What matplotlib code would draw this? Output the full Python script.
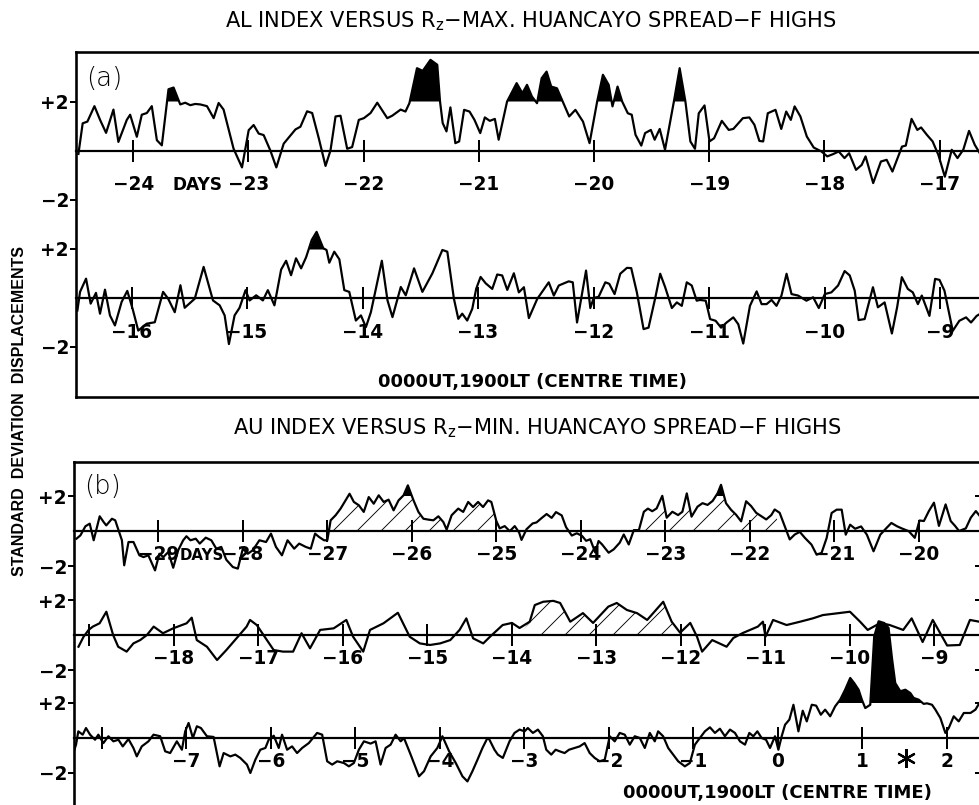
import numpy as np
import matplotlib
matplotlib.use("Agg")
import matplotlib.pyplot as plt

plt.rcParams['font.family'] = ['DejaVu Sans']
plt.rcParams['mathtext.default'] = 'regular'
plt.rcParams['hatch.linewidth'] = 0.9

# ---------------- data (days, standard deviation displacement) ----------------
a1_days = [-24.475, -24.438, -24.397, -24.336, -24.287, -24.235, -24.171, -24.128, -24.055, -24.026,
           -23.968, -23.925, -23.881, -23.838, -23.794, -23.751, -23.693, -23.649, -23.591, -23.548,
           -23.504, -23.461, -23.417, -23.359, -23.301, -23.258, -23.215, -23.128, -23.055, -22.997,
           -22.954, -22.910, -22.867, -22.809, -22.757, -22.693, -22.591, -22.548, -22.490, -22.446,
           -22.388, -22.330, -22.287, -22.243, -22.200, -22.142, -22.099, -22.041, -21.997, -21.939,
           -21.881, -21.794, -21.751, -21.678, -21.636, -21.602, -21.536, -21.486, -21.419, -21.360,
           -21.336, -21.313, -21.280, -21.246, -21.203, -21.170, -21.127, -21.080, -21.037, -20.987,
           -20.947, -20.904, -20.860, -20.827, -20.754, -20.671, -20.621, -20.581, -20.538, -20.494,
           -20.454, -20.411, -20.371, -20.321, -20.271, -20.215, -20.161, -20.095, -20.038, -19.972,
           -19.922, -19.872, -19.839, -19.795, -19.755, -19.706, -19.672, -19.639, -19.589, -19.556,
           -19.506, -19.473, -19.429, -19.383, -19.306, -19.256, -19.206, -19.163, -19.123, -19.090,
           -19.040, -18.997, -18.957, -18.890, -18.830, -18.790, -18.707, -18.651, -18.607, -18.564,
           -18.531, -18.491, -18.424, -18.374, -18.331, -18.291, -18.258, -18.208, -18.152, -18.092,
           -18.025, -17.975, -17.925, -17.875, -17.825, -17.785, -17.725, -17.676, -17.642, -17.576,
           -17.509, -17.459, -17.409, -17.326, -17.293, -17.243, -17.193, -17.160, -17.110, -17.060,
           -17.010, -16.954, -16.894, -16.844, -16.794, -16.744, -16.694, -16.634, -16.550]
a1_vals = [-0.14, 1.11, 1.18, 1.81, 1.25, 0.72, 1.67, 0.35, 1.25, 1.46,
           0.56, 1.46, 1.53, 1.81, 0.42, 0.21, 2.50, 2.57, 1.88, 1.95,
           1.85, 1.90, 1.88, 1.81, 1.32, 1.94, 1.67, 0.07, -0.69, 0.83,
           1.04, 0.69, 0.63, 0.00, -0.69, 0.28, 0.86, 0.97, 1.60, 1.53,
           0.49, -0.63, 0.00, 1.39, 1.42, 0.07, 0.14, 1.25, 1.32, 1.53,
           1.95, 1.32, 1.42, 1.67, 1.59, 1.93, 3.36, 3.25, 3.70, 3.50,
           2.00, 1.12, 0.78, 1.76, 0.30, 0.37, 1.66, 1.59, 1.25, 0.71,
           1.35, 1.21, 1.29, 0.44, 2.00, 2.75, 2.34, 2.68, 2.20, 1.93,
           2.95, 3.22, 2.61, 2.54, 2.00, 1.39, 1.66, 1.18, 0.30, 2.00,
           3.09, 2.68, 1.80, 2.61, 2.00, 1.52, 1.46, 0.64, 0.20, 0.71,
           0.84, 0.44, 0.88, 0.03, 2.00, 3.36, 2.00, 0.37, 0.07, 1.52,
           1.84, 0.37, 0.50, 1.21, 0.84, 0.88, 1.32, 1.35, 1.05, 0.39,
           0.37, 1.52, 1.66, 0.88, 1.59, 1.25, 1.80, 1.39, 0.57, 0.12,
           -0.04, -0.24, -0.15, -0.04, -0.31, -0.11, -0.79, -0.59, -0.24, -1.33,
           -0.45, -0.38, -0.86, 0.16, 0.20, 1.29, 0.84, 0.94, 0.64, 0.37,
           -0.18, -1.07, 0.03, -0.31, 0.03, 0.80, 0.23, -0.24, 0.20]

a2_days = [-16.469, -16.446, -16.394, -16.354, -16.308, -16.273, -16.230, -16.187, -16.144, -16.086,
           -16.037, -15.991, -15.942, -15.870, -15.799, -15.727, -15.683, -15.626, -15.577, -15.540,
           -15.453, -15.376, -15.295, -15.237, -15.194, -15.157, -15.108, -15.065, -15.013, -14.978,
           -14.921, -14.863, -14.820, -14.763, -14.705, -14.662, -14.619, -14.576, -14.532, -14.489,
           -14.440, -14.398, -14.340, -14.312, -14.288, -14.245, -14.201, -14.158, -14.115, -14.058,
           -14.014, -13.971, -13.928, -13.833, -13.784, -13.741, -13.669, -13.626, -13.554, -13.482,
           -13.396, -13.309, -13.266, -13.209, -13.171, -13.137, -13.094, -13.050, -13.016, -12.978,
           -12.934, -12.877, -12.834, -12.791, -12.747, -12.690, -12.647, -12.603, -12.560, -12.488,
           -12.388, -12.344, -12.301, -12.215, -12.180, -12.143, -12.065, -12.028, -11.999, -11.956,
           -11.898, -11.864, -11.818, -11.769, -11.711, -11.674, -11.625, -11.567, -11.524, -11.466,
           -11.423, -11.380, -11.322, -11.279, -11.236, -11.193, -11.150, -11.107, -11.078, -11.029,
           -10.991, -10.943, -10.896, -10.848, -10.790, -10.747, -10.704, -10.646, -10.588, -10.545,
           -10.502, -10.459, -10.416, -10.373, -10.329, -10.286, -10.229, -10.157, -10.099, -10.050,
           -9.998, -9.941, -9.883, -9.826, -9.782, -9.739, -9.705, -9.653, -9.581, -9.538,
           -9.480, -9.417, -9.371, -9.331, -9.279, -9.236, -9.192, -9.158, -9.092, -9.043,
           -9.005, -8.962, -8.890, -8.833, -8.775, -8.732, -8.683, -8.600]
a2_vals = [-0.51, 0.25, 0.79, -0.23, 0.21, -0.64, 0.34, -0.71, -1.12, -0.16,
           0.29, -0.44, -1.33, -1.05, -0.99, 0.25, -0.03, -0.58, 0.52, -0.40,
           -0.03, 1.27, -0.10, -0.30, -0.71, -1.88, -0.71, -0.40, 0.32, -0.10,
           0.11, -0.10, 0.32, -0.30, 1.16, 1.52, 0.93, 1.62, 1.21, 1.66,
           2.37, 2.70, 2.03, 1.96, 1.44, 1.89, 1.58, 0.32, 0.25, -0.92,
           -0.71, -1.19, -0.58, 1.52, -0.10, -0.78, 0.45, 0.11, 1.21, 0.25,
           1.00, 1.96, 1.89, -0.03, -0.85, -0.64, -0.92, -0.44, 0.38, 0.86,
           0.60, 0.37, 0.96, 0.92, 0.33, 1.01, 0.23, 0.44, -0.82, -0.04,
           0.64, 0.10, 0.51, 0.68, 0.64, -1.00, 1.12, -0.41, 0.00, 0.05,
           0.64, 0.58, 0.16, 0.99, 1.23, 1.22, 0.23, -1.27, -1.21, 0.00,
           0.99, 0.44, -0.41, -0.18, -0.32, 0.64, 0.51, -0.11, -0.08, -0.11,
           -0.86, -0.93, -1.21, -1.00, -0.79, -1.07, -1.86, -0.32, 0.27, -0.25,
           -0.25, -0.08, -0.32, 0.10, 0.99, 0.16, 0.10, -0.11, 0.03, -0.41,
           0.16, 0.23, 0.51, 1.10, 0.92, 0.30, -0.90, -0.86, 0.44, -0.38,
           -0.18, -1.45, -0.36, 0.85, 0.37, 0.23, -0.25, 0.10, -0.73, 0.78,
           0.74, 0.30, -1.34, -0.93, -0.79, -1.00, -0.73, -0.50]

b1_days = [-29.969, -29.922, -29.863, -29.812, -29.765, -29.694, -29.647, -29.616, -29.549, -29.510,
           -29.431, -29.404, -29.353, -29.294, -29.224, -29.176, -29.118, -29.039, -28.988, -28.941,
           -28.882, -28.824, -28.765, -28.706, -28.667, -28.620, -28.557, -28.510, -28.439, -28.373,
           -28.314, -28.255, -28.196, -28.118, -28.059, -28.000, -27.941, -27.882, -27.804, -27.725,
           -27.667, -27.608, -27.537, -27.471, -27.392, -27.333, -27.255, -27.196, -27.145, -27.098,
           -27.039, -27.000, -26.961, -26.902, -26.843, -26.784, -26.737, -26.686, -26.627, -26.569,
           -26.510, -26.451, -26.392, -26.333, -26.275, -26.216, -26.157, -26.098, -26.047, -25.980,
           -25.922, -25.863, -25.804, -25.745, -25.686, -25.627, -25.588, -25.529, -25.451, -25.392,
           -25.333, -25.275, -25.216, -25.157, -25.098, -25.059, -25.000, -24.960, -24.901, -24.841,
           -24.782, -24.730, -24.702, -24.643, -24.571, -24.524, -24.464, -24.405, -24.345, -24.294,
           -24.226, -24.175, -24.107, -24.048, -23.988, -23.937, -23.889, -23.829, -23.790, -23.750,
           -23.671, -23.611, -23.540, -23.492, -23.433, -23.373, -23.313, -23.254, -23.206, -23.155,
           -23.103, -23.036, -22.984, -22.917, -22.849, -22.798, -22.746, -22.690, -22.619, -22.560,
           -22.500, -22.440, -22.381, -22.341, -22.282, -22.222, -22.163, -22.103, -22.044, -21.984,
           -21.925, -21.865, -21.806, -21.746, -21.706, -21.647, -21.587, -21.528, -21.468, -21.409,
           -21.349, -21.270, -21.210, -21.151, -21.091, -21.032, -20.972, -20.913, -20.865, -20.813,
           -20.754, -20.683, -20.615, -20.536, -20.456, -20.389, -20.325, -20.258, -20.198, -20.119,
           -20.048, -19.992, -19.940, -19.881, -19.821, -19.762, -19.683, -19.623, -19.571, -19.524,
           -19.444, -19.385, -19.325, -19.258, -19.200]
b1_vals = [-0.44, -0.25, 0.27, 0.42, -0.53, 0.84, 0.51, 0.32, 0.70, 0.61,
           -0.53, -1.96, -0.63, -0.63, -1.39, -1.49, -1.39, -2.25, -1.30, -1.49,
           -1.20, -2.10, -1.10, -0.53, -0.30, -0.53, -0.44, -0.72, -0.38, -0.53,
           -1.01, -0.91, -1.64, -2.06, -2.15, -1.01, -1.30, -1.10, -0.53, -0.63,
           -0.15, -0.91, -1.39, -0.53, -1.01, -0.72, -0.91, -1.01, -0.15, -0.34,
           -0.53, -0.53, 0.61, 0.90, 1.28, 1.75, 2.13, 1.66, 1.47, 1.09,
           1.94, 1.56, 2.04, 1.66, 1.79, 1.18, 1.75, 2.04, 2.61, 1.75,
           1.09, 0.70, 0.65, 0.61, 0.84, 0.51, 0.08, 0.90, 1.28, 1.09,
           1.66, 1.37, 1.66, 1.37, 1.75, 1.66, 0.57, 0.15, 0.28, -0.01,
           0.28, -0.09, -0.51, 0.10, 0.43, 0.49, 0.74, 0.97, 0.75, 1.08,
           0.89, 0.22, -0.26, -0.13, -0.27, -0.56, -0.47, -1.23, -0.57, -0.76,
           -1.24, -1.05, -0.67, -0.20, -0.77, 0.05, 0.05, 1.10, 1.28, 1.13,
           1.29, 2.01, 0.76, 1.10, 0.91, 1.10, 2.15, 0.82, 1.39, 1.59,
           1.49, 1.72, 2.16, 2.64, 1.59, 1.21, 0.93, 0.55, 1.70, 1.42,
           1.04, 0.85, 0.66, 0.91, 1.23, 1.04, 0.28, -0.48, -0.20, -0.05,
           -0.39, -0.78, -1.35, -1.25, -0.40, 1.03, 1.22, 1.22, -0.21, 0.36,
           0.13, 0.26, -0.21, -1.16, -0.21, 0.14, 0.46, 0.27, 0.14, -0.01,
           -0.39, 0.60, 0.57, 1.14, 1.62, 0.29, 1.52, 0.57, 0.29, 0.00,
           0.15, 0.76, 1.14, 0.73, 0.40]

b2_days = [-19.13, -19.07, -19.01, -18.96, -18.88, -18.80, -18.72, -18.66, -18.56, -18.48,
           -18.40, -18.32, -18.24, -18.13, -18.01, -17.85, -17.79, -17.73, -17.61, -17.49,
           -17.38, -17.26, -17.14, -17.10, -17.02, -16.90, -16.82, -16.71, -16.59, -16.49,
           -16.39, -16.27, -16.11, -15.96, -15.88, -15.76, -15.68, -15.52, -15.35, -15.21,
           -15.09, -14.97, -14.85, -14.73, -14.62, -14.54, -14.46, -14.34, -14.26, -14.11,
           -14.00, -13.91, -13.79, -13.73, -13.63, -13.51, -13.43, -13.31, -13.16, -13.04,
           -12.86, -12.76, -12.64, -12.52, -12.40, -12.21, -12.11, -12.01, -11.89, -11.81,
           -11.75, -11.63, -11.46, -11.38, -11.27, -11.09, -11.03, -11.00, -10.91, -10.75,
           -10.59, -10.44, -10.32, -10.15, -10.00, -9.88, -9.79, -9.64, -9.53, -9.37,
           -9.27, -9.14, -9.02, -8.85, -8.70, -8.58, -8.47, -8.40]
b2_vals = [-0.67, -0.10, 0.29, 0.48, 0.67, 1.33, 0.00, -0.67, -0.95, -0.48,
           -0.29, 0.00, 0.48, 0.10, 0.38, 0.67, 0.99, -0.29, -0.67, -1.43,
           -0.86, -0.19, 0.48, 0.86, 0.57, -0.29, -0.86, -0.95, -0.95, 0.10,
           -0.76, 0.29, 0.38, 0.86, -0.10, -0.95, 0.29, 0.67, 1.27, -0.10,
           -0.48, -0.57, -0.48, -0.29, 0.29, 0.95, -0.19, -0.48, -0.10, 0.57,
           0.69, 0.40, 0.76, 1.71, 1.90, 1.95, 1.83, 0.76, 1.25, 0.69,
           1.62, 1.83, 1.43, 1.25, 0.86, 1.90, 0.76, 0.13, 0.69, -0.10,
           -0.95, -0.29, -0.67, -0.17, 0.11, 0.48, 0.76, -0.10, 0.86, 0.57,
           0.76, 0.95, 1.14, 1.24, 1.33, 0.76, 0.29, 0.69, 0.57, 0.29,
           0.95, -0.40, 0.86, -0.60, -0.57, 0.86, 0.76, 0.50]

b3_days = [-8.336, -8.304, -8.277, -8.225, -8.186, -8.138, -8.079, -8.040, -7.980, -7.921,
           -7.862, -7.802, -7.751, -7.684, -7.625, -7.585, -7.526, -7.447, -7.387, -7.308,
           -7.249, -7.190, -7.111, -7.051, -7.012, -6.972, -6.921, -6.874, -6.826, -6.755,
           -6.676, -6.605, -6.557, -6.478, -6.419, -6.360, -6.281, -6.241, -6.182, -6.123,
           -6.063, -6.024, -5.964, -5.905, -5.866, -5.806, -5.747, -5.688, -5.628, -5.549,
           -5.451, -5.391, -5.332, -5.273, -5.213, -5.134, -5.075, -5.016, -4.957, -4.897,
           -4.818, -4.759, -4.700, -4.640, -4.581, -4.522, -4.462, -4.423, -4.344, -4.245,
           -4.186, -4.107, -4.028, -3.968, -3.889, -3.810, -3.731, -3.672, -3.613, -3.553,
           -3.494, -3.435, -3.411, -3.352, -3.312, -3.253, -3.174, -3.115, -3.055, -2.996,
           -2.957, -2.897, -2.838, -2.779, -2.739, -2.680, -2.628, -2.581, -2.522, -2.470,
           -2.403, -2.344, -2.285, -2.225, -2.166, -2.107, -2.047, -1.988, -1.929, -1.870,
           -1.810, -1.751, -1.692, -1.632, -1.573, -1.514, -1.455, -1.415, -1.356, -1.296,
           -1.237, -1.178, -1.099, -1.040, -0.980, -0.921, -0.862, -0.802, -0.743, -0.684,
           -0.625, -0.565, -0.506, -0.447, -0.387, -0.336, -0.289, -0.241, -0.190, -0.138,
           -0.091, -0.032, 0.008, 0.047, 0.087, 0.138, 0.186, 0.245, 0.296, 0.344,
           0.403, 0.455, 0.510, 0.561, 0.621, 0.680, 0.739, 0.798, 0.858, 0.905,
           0.957, 0.996, 1.036, 1.095, 1.142, 1.194, 1.261, 1.312, 1.352, 1.391,
           1.451, 1.510, 1.569, 1.609, 1.668, 1.727, 1.767, 1.826, 1.866, 1.925,
           1.984, 2.024, 2.083, 2.142, 2.202, 2.281, 2.340, 2.387]
b3_vals = [-0.86, -0.38, 0.38, 0.19, 0.57, 0.19, -0.10, 0.19, -0.29, 0.10,
           -0.19, -0.10, -0.48, -0.06, -0.57, -1.05, -0.48, -0.19, 0.19, 0.10,
           -0.76, -0.86, -0.19, -0.67, 0.38, 0.86, 0.00, 0.67, 0.57, 0.10,
           0.06, -1.62, -0.86, -1.05, -0.95, -1.14, -1.52, -2.00, -1.24, -0.67,
           -0.57, -0.10, 0.13, -0.57, 0.19, -0.67, -0.48, -0.86, -0.57, -0.29,
           0.29, 0.19, -1.33, -1.52, -1.33, -1.43, -1.62, -1.43, -0.67, -0.19,
           -0.32, -0.19, -1.52, -0.57, -0.38, 0.19, -0.19, 0.00, -0.95, -2.19,
           -1.90, -1.05, -0.57, 0.10, -0.76, -1.43, -2.19, -2.48, -1.90, -1.24,
           -0.57, 0.00, -0.10, -0.67, -0.95, -1.14, -0.19, 0.29, 0.48, 0.38,
           0.57, 0.29, 0.48, 0.10, -0.67, -0.95, -0.67, -0.76, -0.86, -0.67,
           -0.57, -0.48, -0.29, -0.86, -1.14, -1.33, -1.24, 0.10, -0.19, 0.29,
           0.19, -0.38, 0.10, 0.00, -0.57, 0.29, -0.19, 0.38, 0.10, -0.57,
           -0.95, -1.33, -1.62, -1.43, -0.38, 0.00, 0.38, 0.61, 0.29, 0.53,
           0.10, 0.48, 0.29, -0.19, -0.38, 0.29, 0.10, 0.38, 0.00, -0.10,
           -0.57, 0.10, -0.67, 0.10, 0.76, 1.05, 1.90, 0.38, 1.56, 0.95,
           1.90, 1.85, 1.33, 1.62, 1.24, 1.81, 2.19, 2.76, 3.43, 3.14,
           2.76, 2.19, 1.71, 1.90, 5.81, 6.67, 6.57, 6.29, 4.57, 3.14,
           2.67, 2.76, 2.57, 2.29, 2.19, 1.95, 1.98, 1.90, 1.62, 1.14,
           0.29, 0.57, 1.24, 0.95, 1.43, 1.43, 1.62, 2.00]

FILL_LEVEL = 2.0
b1_hatch = [(-27.0, -25.0), (-23.3, -21.65)]
b2_hatch = [(-13.9, -12.1)]
star_day, star_val = 1.52, -1.15

panel_a_title = "AL INDEX VERSUS R$_z$\u2212MAX. HUANCAYO SPREAD\u2212F HIGHS"
panel_b_title = "AU INDEX VERSUS R$_z$\u2212MIN. HUANCAYO SPREAD\u2212F HIGHS"
ylabel_text = "STANDARD  DEVIATION  DISPLACEMENTS"
centre_text = "0000UT,1900LT (CENTRE TIME)"

# ---------------- layout ----------------
W, H, DPI = 979, 805, 72
fig = plt.figure(figsize=(W / DPI, H / DPI), dpi=DPI)
fig.patch.set_facecolor('white')


def frac(x0, y0, x1, y1):
    return [x0 / W, 1 - y1 / H, (x1 - x0) / W, (y1 - y0) / H]


def box(x0, y0, x1, y1):
    ax = fig.add_axes(frac(x0, y0, x1, y1))
    ax.set_xticks([]); ax.set_yticks([])
    ax.patch.set_visible(False)
    for s in ax.spines.values():
        s.set_linewidth(2.6)
    return ax


box(76, 52, 1000, 397)
box(74, 462, 1000, 840)

TICK_FS = 18.5


def row(x0, x1, day_left, ppd, zero_y, ppu, ylo, yhi, label_pad, right_ticks=False,
        skip_first_label=False):
    top = zero_y - yhi * ppu
    bot = zero_y - ylo * ppu
    ax = fig.add_axes(frac(x0, top, x1, bot))
    ax.patch.set_visible(False)
    ax.set_xlim(day_left, day_left + (x1 - x0) / ppd)
    ax.set_ylim(ylo, yhi)
    for s in ('top', 'right', 'left'):
        ax.spines[s].set_visible(False)
    ax.spines['bottom'].set_position(('data', 0))
    ax.spines['bottom'].set_linewidth(2.2)
    lo, hi = ax.get_xlim()
    days = list(range(int(np.ceil(lo)), int(np.floor(hi)) + 1))
    labels = [str(d).replace('-', '\u2212') for d in days]
    if skip_first_label:
        labels[0] = ''
    ax.set_xticks(days)
    ax.set_xticklabels(labels)
    ax.tick_params(axis='x', direction='inout', length=22, width=2, pad=label_pad,
                   labelsize=TICK_FS)
    ax.set_yticks([-2, 2])
    ax.set_yticklabels(['\u22122', '+2'])
    ax.tick_params(axis='y', direction='out', length=6, width=2, pad=1, labelsize=TICK_FS)
    for t in ax.get_xticklabels() + ax.get_yticklabels():
        t.set_fontweight('bold')
    if right_ticks:
        sec = ax.secondary_yaxis('right')
        sec.set_yticks([-2, 2])
        sec.tick_params(direction='in', length=11, width=2, labelright=False)
        sec.spines['right'].set_visible(False)
    return ax


def draw(ax, d, v, hatch=None):
    d = np.asarray(d); v = np.asarray(v)
    ax.plot(d, v, color='black', lw=2.2, solid_joinstyle='round')
    ax.fill_between(d, FILL_LEVEL, v, where=v > FILL_LEVEL, interpolate=True,
                    color='black', lw=0)
    if hatch:
        for a, b in hatch:
            m = (d >= a) & (d <= b)
            ax.fill_between(d, 0, v, where=m & (v > 0), interpolate=True,
                            facecolor='none', edgecolor='black', hatch='/', lw=0)


ax_a1 = row(76, 1000, -24.496, 115.2, 150.5, 24.5, -2.7, 4.2, 14)
ax_a2 = row(76, 1000, -16.481, 115.5, 298.0, 24.5, -2.7, 4.2, 14)
ax_b1 = row(74, 986, -29.998, 84.5, 531.0, 17.5, -2.7, 3.6, 3, right_ticks=True)
ax_b2 = row(74, 986, -19.183, 84.5, 635.0, 17.5, -2.7, 3.6, 3, right_ticks=True,
            skip_first_label=True)
ax_b3 = row(74, 986, -8.328, 84.5, 738.0, 17.5, -2.7, 7.5, 3, right_ticks=True,
            skip_first_label=True)

draw(ax_a1, a1_days, a1_vals)
draw(ax_a2, a2_days, a2_vals)
draw(ax_b1, b1_days, b1_vals, b1_hatch)
draw(ax_b2, b2_days, b2_vals, b2_hatch)
draw(ax_b3, b3_days, b3_vals)

ax_a1.annotate("DAYS", xy=(-23.44, 0), xytext=(0, -35), textcoords='offset points',
               ha='center', va='center', fontsize=17, fontweight='bold')
ax_b1.annotate("DAYS", xy=(-28.49, 0), xytext=(0, -24), textcoords='offset points',
               ha='center', va='center', fontsize=15, fontweight='bold')
ax_b3.plot([star_day], [star_val], marker=(6, 2, 0), ms=19, mew=2.2, color='black')

# ---------------- texts ----------------
fig.text(531 / W, 1 - 21 / H, panel_a_title, ha='center', va='center', fontsize=21)
fig.text(537 / W, 1 - 428 / H, panel_b_title, ha='center', va='center', fontsize=21)
fig.text(20 / W, 1 - 411 / H, ylabel_text, ha='center', va='center', rotation=90,
         fontsize=16, fontweight='bold', family='Liberation Sans')
fig.text(532 / W, 1 - 382 / H, centre_text, ha='center', va='center', fontsize=18,
         fontweight='bold')
fig.text(777 / W, 1 - 793 / H, centre_text, ha='center', va='center', fontsize=18,
         fontweight='bold')
fig.text(86 / W, 1 - 79 / H, "(a)", ha='left', va='center', fontsize=26,
         family='DejaVu Sans', fontweight='light')
fig.text(84 / W, 1 - 486 / H, "(b)", ha='left', va='center', fontsize=26,
         family='DejaVu Sans', fontweight='light')

fig.savefig("out.png", dpi=DPI, facecolor='white')
